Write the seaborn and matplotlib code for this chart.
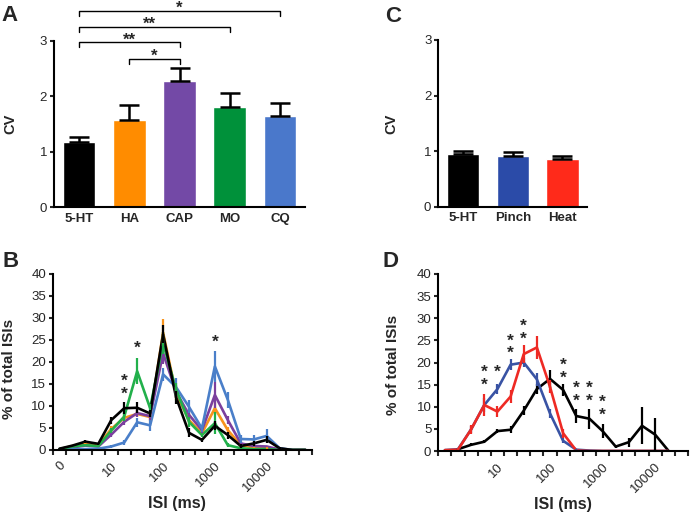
import numpy as np
import pandas as pd
import matplotlib
matplotlib.use("Agg")
import matplotlib.pyplot as plt
import seaborn as sns

sns.set_style("ticks")
plt.rcParams['font.family'] = ['Liberation Sans', 'DejaVu Sans']

# ---- panel A: CV per chemical stimulus
a_labels = ["5-HT", "HA", "CAP", "MO", "CQ"]
a_cv = [1.17, 1.58, 2.27, 1.81, 1.64]
a_sem = [0.09, 0.26, 0.24, 0.24, 0.23]
a_colors = ["#000000", "#FF8C00", "#7349A6", "#00913A", "#4A78CB"]
# (from, to, height, stars, star x)
a_sig = [(1, 2, 2.67, "*", 1.5), (0, 2, 2.97, "**", 1.0),
         (0, 3, 3.25, "**", 1.4), (0, 4, 3.54, "*", 2.0)]

# ---- panel C: CV natural stimuli
c_labels = ["5-HT", "Pinch", "Heat"]
c_cv = [0.94, 0.92, 0.86]
c_sem = [0.06, 0.06, 0.06]
c_colors = ["#000000", "#2B4BA8", "#FF2A1A"]

# ---- panel B: ISI distributions (20 log bins, 4 per decade)
b_ticklabels = {0: "0", 4: "10", 8: "100", 12: "1000", 16: "10000"}
b_5ht = [0.3, 1.0, 1.9, 1.4, 6.8, 9.5, 9.6, 8.3, 26.3, 12.0, 3.9, 2.3, 5.5, 3.4, 0.9, 1.5, 2.3, 0.4, 0, 0]
b_ha = [0.2, 0.9, 1.6, 1.2, 4.8, 7.3, 8.2, 7.5, 26.7, 12.8, 6.8, 3.8, 9.5, 4.5, 1.1, 0.6, 0.5, 0.1, 0, 0]
b_cap = [0.1, 0.6, 1.0, 0.8, 3.5, 6.4, 8.4, 7.7, 22.0, 13.3, 8.0, 4.5, 12.5, 6.8, 1.5, 0.9, 0.8, 0.1, 0, 0]
b_mo = [0.2, 0.8, 1.1, 0.9, 4.4, 7.6, 17.9, 9.5, 24.3, 13.8, 6.4, 3.4, 6.1, 1.1, 0.4, 0.2, 0.2, 0, 0, 0]
b_cq = [0.1, 0.2, 0.2, 0.3, 0.8, 1.7, 6.3, 5.6, 17.2, 14.3, 9.8, 4.9, 19.0, 11.4, 2.5, 2.4, 3.2, 0.4, 0, 0]
b_5ht_err = [0, 0, 0.3, 0.3, 0.8, 1.3, 1.3, 0.8, 2.0, 1.5, 1.0, 0.5, 1.0, 0.8, 0.4, 0.5, 0.8, 0.2, 0, 0]
b_ha_err = [0, 0, 0.2, 0.2, 0.6, 0.8, 0.8, 0.8, 3.0, 1.5, 1.5, 0.5, 1.5, 0.8, 0.3, 0.2, 0.2, 0, 0, 0]
b_cap_err = [0, 0, 0.2, 0.2, 0.6, 0.8, 0.9, 0.8, 2.5, 1.5, 1.5, 0.6, 3.0, 1.0, 0.3, 0.2, 0.2, 0, 0, 0]
b_mo_err = [0, 0, 0.2, 0.2, 0.6, 1.0, 3.0, 1.0, 2.5, 1.5, 1.2, 0.5, 2.5, 0.4, 0.2, 0, 0, 0, 0, 0]
b_cq_err = [0, 0, 0, 0.1, 0.3, 0.5, 1.0, 1.3, 1.5, 2.0, 1.5, 0.8, 3.5, 1.8, 0.8, 1.0, 1.5, 0.3, 0, 0]
# (bin, centre of top star, number of stacked stars)
b_stars = [(5, 16.7, 2), (6, 24.2, 1), (12, 25.5, 1)]

# ---- panel D: ISI distributions natural stimuli (19 bins)
d_ticklabels = {4: "10", 8: "100", 12: "1000", 16: "10000"}
d_5ht = [np.nan, 0.4, 1.4, 2.1, 4.5, 4.8, 9.1, 14.0, 16.3, 13.8, 7.9, 7.3, 4.5, 1.0, 2.0, 5.7, 3.7, 0.1, np.nan]
d_pinch = [0.2, 0.4, 4.9, 10.4, 14.0, 19.5, 20.0, 16.2, 8.5, 2.3, 0.3, 0.1, 0, 0, 0, 0, 0, 0, np.nan]
d_heat = [0.2, 0.3, 4.9, 10.4, 8.9, 12.3, 21.9, 23.4, 14.5, 4.0, 0.1, 0, 0, 0, 0, 0, 0, 0, np.nan]
d_5ht_err = [0, 0.2, 0.3, 0.3, 0.5, 0.8, 1.0, 1.2, 2.0, 1.3, 1.5, 2.3, 1.5, 0.3, 1.0, 4.2, 3.8, 0, 0]
d_pinch_err = [0, 0.2, 0.8, 1.5, 1.2, 1.2, 1.0, 1.5, 1.0, 0.6, 0.2, 0, 0, 0, 0, 0, 0, 0, 0]
d_heat_err = [0, 0.3, 1.0, 2.5, 1.3, 1.5, 2.0, 2.5, 1.5, 1.0, 0, 0, 0, 0, 0, 0, 0, 0, 0]
d_stars = [(3, 18.8, 2), (4, 19.0, 1), (5, 26.0, 2), (6, 29.2, 2), (9, 20.4, 2),
           (10, 15.3, 2), (11, 15.3, 2), (12, 12.1, 2)]

W, H = 696, 513
fig = plt.figure(figsize=(W / 100, H / 100), dpi=100)


def px_axes(x0, y0, x1, y1):
    return fig.add_axes([x0 / W, 1 - y1 / H, (x1 - x0) / W, (y1 - y0) / H])


def style_axes(ax):
    sns.despine(ax=ax)
    for s in ["left", "bottom"]:
        ax.spines[s].set_linewidth(1.5)
        ax.spines[s].set_color("black")
    ax.tick_params(axis="y", length=3, width=1.5, labelsize=9.5, pad=2)


def star(ax, x, y, s, fs=12.5):
    ax.annotate(s, (x, y), xytext=(0, -0.58 * fs), textcoords="offset points",
                ha="center", va="baseline", fontsize=fs, fontweight="bold",
                annotation_clip=False)


def star_stack(ax, x, y, n, fs=12.5):
    # stacked asterisks as one text; y is the centre of the top star
    ax.annotate("\n".join(["*"] * n), (x, y), xytext=(0, 0.15 * fs),
                textcoords="offset points", ha="center", va="top",
                fontsize=fs, fontweight="bold", linespacing=0.8,
                annotation_clip=False)


def bar_panel(ax, labels, vals, errs, colors, ylab_x):
    sns.barplot(x=labels, y=vals, hue=labels, palette=colors, legend=False,
                width=0.65, saturation=1, ax=ax)
    n = len(labels)
    ax.errorbar(np.arange(n), vals, yerr=[np.zeros(n), errs], fmt="none",
                ecolor="black", elinewidth=1.8, capsize=7, capthick=1.8)
    ax.set_xlim(-0.5, n - 0.5)
    ax.set_ylim(0, 3)
    ax.set_yticks([0, 1, 2, 3])
    style_axes(ax)
    ax.tick_params(axis="x", length=0, pad=4)
    for t in ax.get_xticklabels():
        t.set_fontweight("bold")
        t.set_fontsize(9.5)
    ax.set_ylabel("CV", fontsize=10.5, fontweight="bold")
    ax.yaxis.set_label_coords(ylab_x, 0.5)


def line_panel(ax, series, errs, colors, nbins, ticklabels, stars, ylab, labx):
    rows = []
    for name, vals in series.items():
        for k, v in enumerate(vals):
            rows.append({"bin": k, "pct": v, "group": name})
    df = pd.DataFrame(rows).dropna()
    sns.lineplot(data=df, x="bin", y="pct", hue="group", palette=colors,
                 hue_order=list(series.keys()), linewidth=1.9, legend=False,
                 estimator=None, sort=False, ax=ax)
    for name, vals in series.items():
        v = np.array(vals, dtype=float)
        e = np.array(errs[name], dtype=float)
        ok = ~np.isnan(v) & (e > 0)
        ax.errorbar(np.arange(nbins)[ok], v[ok], yerr=e[ok], fmt="none",
                    ecolor=colors[name], elinewidth=1.6, capsize=0)
    ax.set_xlim(-0.5, nbins - 0.5)
    ax.set_ylim(0, 40)
    ax.set_yticks(np.arange(0, 41, 5))
    style_axes(ax)
    ax.set_xticks(list(ticklabels.keys()))
    ax.set_xticklabels(list(ticklabels.values()), rotation=45, ha="right",
                       va="top", rotation_mode="anchor", fontsize=9.5)
    ax.set_xticks(np.arange(nbins + 1) - 0.5, minor=True)
    ax.tick_params(axis="x", which="major", length=0, pad=7)
    ax.tick_params(axis="x", which="minor", length=3.5, width=1.5)
    for x, y, n in stars:
        star_stack(ax, x, y, n)
    ax.set_xlabel("ISI (ms)", fontsize=11.5, fontweight="bold")
    ax.xaxis.set_label_coords(labx, -0.26)
    ax.set_ylabel(ylab, fontsize=11, fontweight="bold")


# A
axA = px_axes(54, 40.7, 305, 207.3)
bar_panel(axA, a_labels, a_cv, a_sem, a_colors, -0.147)
for i0, i1, h, s, sx in a_sig:
    axA.plot([i0, i0, i1, i1], [h - 0.09, h, h, h - 0.09], color="black",
             lw=1, clip_on=False)
    star(axA, sx, h + 0.135, s, fs=12)

# C
axC = px_axes(438.3, 40, 587.3, 206.7)
bar_panel(axC, c_labels, c_cv, c_sem, c_colors, -0.27)

# B
axB = px_axes(53, 274, 312, 450)
b_series = {"HA": b_ha, "CAP": b_cap, "CQ": b_cq, "MO": b_mo, "5-HT": b_5ht}
b_errs = {"HA": b_ha_err, "CAP": b_cap_err, "CQ": b_cq_err, "MO": b_mo_err, "5-HT": b_5ht_err}
b_cols = {"5-HT": "#000000", "HA": "#F7941D", "CAP": "#7B3F9E", "MO": "#22B04B", "CQ": "#4A7FC9"}
line_panel(axB, b_series, b_errs, b_cols, 20, b_ticklabels, b_stars,
           "% of total ISIs", 0.479)
axB.yaxis.set_label_coords(-0.143, 0.46)

# D
axD = px_axes(438.3, 274, 688, 451)
d_series = {"5-HT": d_5ht, "Pinch": d_pinch, "Heat": d_heat}
d_errs = {"5-HT": d_5ht_err, "Pinch": d_pinch_err, "Heat": d_heat_err}
d_cols = {"5-HT": "#000000", "Pinch": "#3953A4", "Heat": "#EE2A24"}
line_panel(axD, d_series, d_errs, d_cols, 19, d_ticklabels, d_stars,
           "% of total ISIs", 0.50)
axD.yaxis.set_label_coords(-0.153, 0.485)

for letter, x, y in [("A", 1, 5), ("B", 2, 251), ("C", 385, 6), ("D", 383, 251)]:
    fig.text(x / W, 1 - y / H, letter, fontsize=16, fontweight="bold",
             ha="left", va="top")

fig.savefig("out.png", dpi=100)
